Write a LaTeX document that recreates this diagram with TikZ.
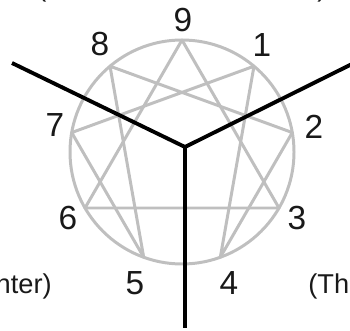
\documentclass[tikz,border=0pt]{standalone}
\usepackage{fontspec}
\setmainfont{Liberation Sans}
\tikzset{
  ring/.style={draw=gray!50,line width=1.7pt,line join=round},
  spoke/.style={draw=black,line width=2.2pt},
  num/.style={font=\fontsize{19}{22}\selectfont,text=black!90,inner sep=0pt},
  captxt/.style={font=\fontsize{15.5}{18}\selectfont,text=black!90,inner sep=0pt}
}
\begin{document}
\begin{tikzpicture}[x=0.02cm,y=-0.02cm]
\useasboundingbox (0,0) rectangle (350,330);
\coordinate (c) at (182,152);
\coordinate (m) at (185,147);
% points of the figure, 9 on top, clockwise
\foreach \k in {0,...,8}
  \path (c) ++(-90+40*\k:112) coordinate (p\k);
\foreach \k/\x/\y in {9/183/20,1/262/45,2/314/127,3/297/218,4/229/283,5/135/283,6/68/218,7/55/125,8/100/44}
  \node[num] (n\k) at (\x,\y) {\k};
\draw[ring] (c) circle (112);
\draw[ring] (p0) -- (p3) -- (p6) -- cycle;
\draw[ring] (p1) -- (p4) -- (p2) -- (p8) -- (p5) -- (p7) -- cycle;
% the three centres
\coordinate (e1) at (12,63);
\coordinate (e2) at (352,64);
\coordinate (e3) at (185,328);
\draw[spoke] (e1) -- (m) -- (e2);
\draw[spoke] (m) -- (e3);
% cut-off captions
\node[captxt,anchor=base] (t1) at (42,-3) {(};
\node[captxt,anchor=base] (t2) at (322,-3) {)};
\node[captxt,anchor=base east] (b1) at (52,293) {nter)};
\node[captxt,anchor=base west] (b2) at (308,293) {(The};
\end{tikzpicture}
\end{document}
